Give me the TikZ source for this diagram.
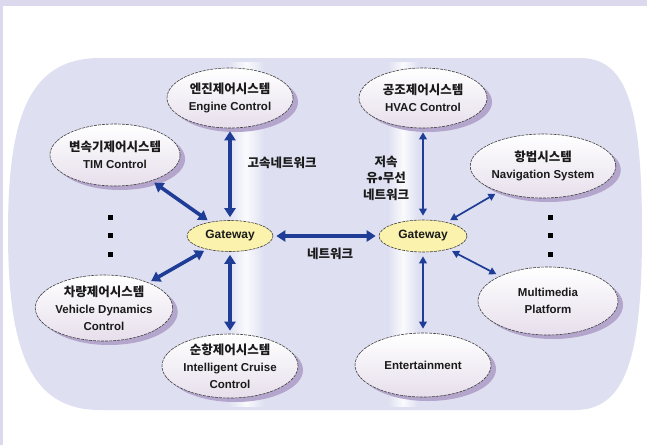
\documentclass[tikz,border=0pt]{standalone}
\usepackage{fontspec}
\setmainfont{Liberation Sans}
\newfontfamily\krfont{Noto Sans CJK KR}
\usetikzlibrary{shapes.geometric,arrows.meta,shadows}
\definecolor{barcol}{HTML}{DCD9EE}
\definecolor{bodycol}{HTML}{DEE0F1}
\definecolor{arrcol}{HTML}{1F3C96}
\definecolor{shadcol}{HTML}{B3A5CC}
\definecolor{ellbot}{HTML}{E7DFEC}
\definecolor{gatecol}{HTML}{FBF2AE}
\definecolor{txtcol}{HTML}{1A1A1A}
\newcommand\kor[1]{{\krfont\fontsize{12.5}{17.5}\selectfont #1}}
\tikzset{
  sysnode/.style={ellipse, draw=black!75, dashed, dash pattern=on 3pt off 1pt, line width=0.6pt,
    top color=white, bottom color=ellbot, inner sep=0pt, align=center, text=txtcol,
    font=\fontsize{11.5}{17}\selectfont\bfseries,
    drop shadow={shadow xshift=5pt, shadow yshift=-4pt, fill=shadcol, opacity=1}},
  gatenode/.style={ellipse, draw=black!75, dashed, dash pattern=on 3pt off 1pt, line width=0.6pt,
    fill=gatecol, inner sep=0pt, text=txtcol, font=\fontsize{12}{14}\selectfont\bfseries,
    minimum width=86pt, minimum height=31pt},
  thickarr/.style={arrcol, line width=3.6pt, {Triangle[length=9pt,width=11pt]}-{Triangle[length=9pt,width=11pt]}, shorten <=3pt, shorten >=3pt},
  thinarr/.style={arrcol, line width=1.7pt, {Triangle[length=7pt,width=7.5pt]}-{Triangle[length=7pt,width=7.5pt]}, shorten <=4pt, shorten >=4pt},
  dotnode/.style={fill=black, inner sep=0pt, minimum size=5pt},
  lbl/.style={text=txtcol, align=center, font=\krfont\fontsize{12.5}{16.5}\selectfont\bfseries}
}
\begin{document}
\begin{tikzpicture}[x=1pt,y=-1pt]
\useasboundingbox (0,0) rectangle (647,445);
\fill[white] (0,0) rectangle (647,445);
\fill[barcol] (0,0) rectangle (647,6);
\fill[barcol] (0,0) rectangle (2.5,445);
% body
\fill[bodycol] (100,58) -- (580,58) .. controls (628,58) and (642,110) .. (642,232)
  .. controls (642,360) and (625,410) .. (575,410) -- (100,410)
  .. controls (30,410) and (8,350) .. (8,232) .. controls (8,115) and (30,58) .. (100,58) -- cycle;
\shade[left color=bodycol, right color=white!85!bodycol] (228,62) rectangle (246,406);
\shade[left color=white!85!bodycol, right color=bodycol] (246,62) rectangle (264,406);
\shade[left color=bodycol, right color=white!85!bodycol] (388,62) rectangle (403,406);
\shade[left color=white!85!bodycol, right color=bodycol] (403,62) rectangle (418,406);
% nodes
\node[sysnode, minimum width=126pt, minimum height=60pt] (eng) at (230,98) {\kor{엔진제어시스템}\\Engine Control};
\node[sysnode, minimum width=128pt, minimum height=60pt] (hvac) at (423,98) {\kor{공조제어시스템}\\HVAC Control};
\node[sysnode, minimum width=126pt, minimum height=62pt] (tim) at (115,155) {\kor{변속기제어시스템}\\TIM Control};
\node[sysnode, minimum width=140pt, minimum height=64pt] (nav) at (543,166) {\kor{항법시스템}\\Navigation System};
\node[sysnode, minimum width=132pt, minimum height=66pt] (vdc) at (104,308) {\kor{차량제어시스템}\\Vehicle Dynamics\\Control};
\node[sysnode, minimum width=140pt, minimum height=68pt] (mm) at (548,301) {Multimedia\\Platform};
\node[sysnode, minimum width=136pt, minimum height=64pt] (icc) at (230,366) {\kor{순항제어시스템}\\Intelligent Cruise\\Control};
\node[sysnode, minimum width=136pt, minimum height=64pt] (ent) at (423,365) {Entertainment};
\node[gatenode] (gl) at (230,236) {Gateway};
\node[gatenode, minimum width=88pt, minimum height=32pt] (gr) at (423,236) {Gateway};
% dots
\node[dotnode] (d1) at (110,217) {};
\node[dotnode] (d2) at (110,235) {};
\node[dotnode] (d3) at (110,254) {};
\node[dotnode] (d4) at (550,217) {};
\node[dotnode] (d5) at (550,235) {};
\node[dotnode] (d6) at (550,254) {};
% arrows
\draw[thickarr] (gl) -- (eng);
\draw[thickarr] (gl) -- (icc);
\draw[thickarr] (gl) -- (tim);
\draw[thickarr] (gl) -- (vdc);
\draw[thickarr] (gl) -- (gr);
\draw[thinarr] (gr) -- (hvac);
\draw[thinarr] (gr) -- (ent);
\draw[thinarr] (gr) -- (nav);
\draw[thinarr] (gr) -- (mm);
% labels
\node[lbl, anchor=west] (l1) at (244,163) {고속네트워크};
\node[lbl] (l2) at (386,178) {저속\\유•무선\\네트워크};
\node[lbl] (l3) at (330,254) {네트워크};
\end{tikzpicture}
\end{document}
